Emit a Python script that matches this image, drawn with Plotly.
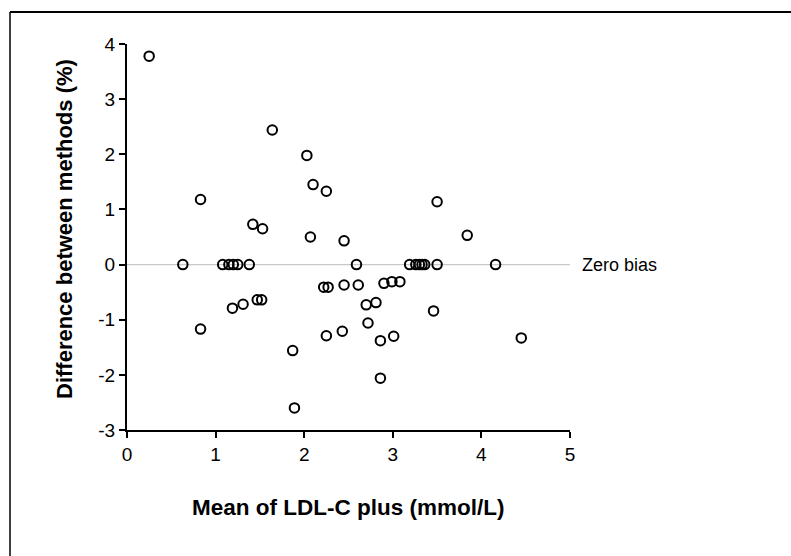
import plotly.graph_objects as go

# Bland-Altman style agreement data: mean LDL-C vs. % difference between methods
mean_ldl = [
    0.25, 0.63, 0.83, 0.83, 1.08, 1.15, 1.20, 1.25, 1.38, 1.19,
    1.31, 1.42, 1.47, 1.52, 1.53, 1.64, 1.87, 1.89, 2.03, 2.07,
    2.10, 2.22, 2.27, 2.25, 2.25, 2.43, 2.45, 2.45, 2.59, 2.61,
    2.70, 2.72, 2.81, 2.86, 2.86, 2.90, 2.99, 3.01, 3.08, 3.19,
    3.26, 3.30, 3.33, 3.36, 3.46, 3.50, 3.50, 3.84, 4.16, 4.45,
]
diff_pct = [
    3.78, 0.00, 1.18, -1.17, 0.00, 0.00, 0.00, 0.00, 0.00, -0.79,
    -0.72, 0.73, -0.64, -0.64, 0.65, 2.44, -1.56, -2.60, 1.98, 0.50,
    1.45, -0.41, -0.41, 1.33, -1.29, -1.21, 0.43, -0.37, 0.00, -0.37,
    -0.73, -1.06, -0.69, -1.38, -2.06, -0.34, -0.31, -1.30, -0.31, 0.00,
    0.00, 0.00, 0.00, 0.00, -0.84, 1.14, 0.00, 0.53, 0.00, -1.33,
]
x_ticks = [0, 1, 2, 3, 4, 5]
y_ticks = [-3, -2, -1, 0, 1, 2, 3, 4]
y_tick_text = ["-3", "-2", "-1", "0", "1", "2", "3", "4"]
bias_level = 0
bias_label = "Zero bias"

FONT = "Liberation Sans, Arial, sans-serif"

# plot-area geometry in pixels (used to place the outer frame and labels)
W, H = 791, 556
L, R, T, B = 127, 221, 44, 126
pw, ph = W - L - R, H - T - B


def px_x(p):
    return (p - L) / pw


def px_y(p):
    return (H - B - p) / ph


fig = go.Figure()

# zero-bias reference line
fig.add_trace(go.Scatter(
    x=[x_ticks[0], x_ticks[-1]], y=[bias_level, bias_level],
    mode="lines", line=dict(color="#c8c8c8", width=1.3),
    hoverinfo="skip", showlegend=False,
))

fig.add_trace(go.Scatter(
    x=mean_ldl, y=diff_pct, mode="markers",
    marker=dict(symbol="circle-open", size=9.5, color="black",
                line=dict(color="black", width=2)),
    showlegend=False,
))

fig.update_layout(
    width=W, height=H,
    margin=dict(l=L, r=R, t=T, b=B),
    paper_bgcolor="white", plot_bgcolor="white",
    font=dict(family=FONT, color="black", size=19),
    xaxis=dict(
        range=[x_ticks[0], x_ticks[-1]], tickvals=x_ticks,
        showgrid=False, zeroline=False,
        showline=True, linecolor="black", linewidth=2,
        ticks="outside", ticklen=6, tickwidth=1.5, tickcolor="black",
        tickfont=dict(size=19),
    ),
    yaxis=dict(
        range=[y_ticks[0], y_ticks[-1]], tickvals=y_ticks, ticktext=y_tick_text,
        showgrid=False, zeroline=False,
        showline=True, linecolor="black", linewidth=2,
        ticks="outside", ticklen=6, tickwidth=1.5, tickcolor="black",
        tickfont=dict(size=19),
    ),
    shapes=[
        # outer chart frame (top and left edges visible)
        dict(type="line", xref="paper", yref="paper",
             x0=px_x(10), x1=px_x(800), y0=px_y(12), y1=px_y(12),
             line=dict(color="black", width=2)),
        dict(type="line", xref="paper", yref="paper",
             x0=px_x(10), x1=px_x(10), y0=px_y(12), y1=px_y(570),
             line=dict(color="black", width=1.5)),
    ],
    annotations=[
        dict(text=bias_label, x=px_x(580), y=bias_level, xref="paper", yref="y",
             xanchor="left", yanchor="middle", showarrow=False,
             font=dict(size=18)),
        dict(text="<b>Mean of LDL-C plus (mmol/L)</b>", x=px_x(348), y=px_y(507),
             xref="paper", yref="paper", xanchor="center", yanchor="middle",
             showarrow=False, font=dict(size=22.5)),
        dict(text="<b>Difference between methods (%)</b>", x=px_x(64), y=px_y(229),
             xref="paper", yref="paper", xanchor="center", yanchor="middle",
             textangle=-90, showarrow=False, font=dict(size=22)),
    ],
)

fig.write_html("out.html")
